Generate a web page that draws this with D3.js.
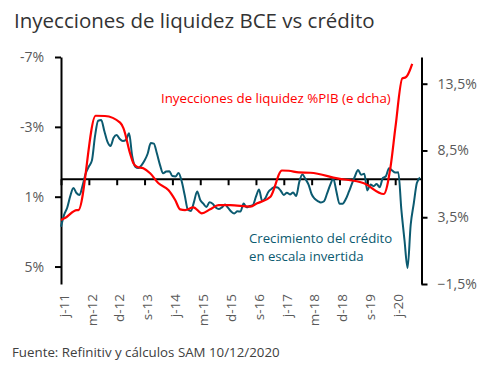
<!DOCTYPE html>
<html><head><meta charset="utf-8">
<script src="https://cdn.jsdelivr.net/npm/d3@7"></script>
<style>body{margin:0;background:#fff}svg{display:block}</style>
</head><body>
<script>
// Month index 0 = June 2011
const tickLabels = ["j-11","m-12","d-12","s-13","j-14","m-15","d-15","s-16","j-17","m-18","d-18","s-19","j-20"];
const tickMonths = [0,9,18,27,36,45,54,63,72,81,90,99,108];

// Credit growth (%), monthly, plotted on inverted left axis
const creditGrowth = [
 2.72,2.04,1.63,0.96,0.50,0.79,0.90,0.34,-0.34,-0.73,
 -1.08,-2.48,-3.35,-3.39,-2.76,-2.15,-1.90,-2.38,-2.53,-2.30,
 -2.19,-2.25,-2.63,-1.33,-0.72,-0.64,-0.80,-1.07,-1.46,-2.07,
 -2.04,-1.47,-0.81,-0.34,-0.44,-0.46,-0.18,-0.16,-0.36,0.12,
 0.93,1.75,1.82,1.28,0.70,1.19,1.40,1.59,1.32,1.40,
 1.62,1.71,1.61,1.45,1.64,1.85,1.96,1.84,1.85,1.39,
 1.61,1.53,1.48,1.00,0.59,1.25,1.09,0.73,0.56,0.44,
 0.47,0.66,0.90,0.77,0.87,0.76,0.96,0.16,-0.27,-0.01,
 0.31,0.86,1.12,1.25,1.33,1.26,0.81,0.32,-0.03,0.70,
 1.40,1.40,1.15,0.73,0.27,-0.17,-0.53,-0.25,-0.32,0.64,
 0.30,0.40,0.27,0.46,-0.07,-0.17,-0.63,-0.50,-0.38,-0.40,
 1.76,3.48,5.08,2.62,1.39,0.22,-0.10
];

// ECB liquidity injections (% GDP), right axis
const liquidityMonths = [0,1.3,5.1,5.6,11.2,14.2,19.1,20.2,22.3,23.4,24.5,26.6,28.8,31.5,34.7,36.9,38.5,40.1,42.8,45.5,48.2,50.9,54.7,61.2,63.4,67.7,71.4,73.6,76.8,80.6,89.3,97.9,104.3,106.5,108.1,110.3,111.4,111.9,113.5];
const liquidityValues = [3.3,3.44,4.04,4.04,11.1,11.08,10.58,10.16,8.29,7.54,7.28,7.16,6.79,6.04,5.54,4.79,4.09,4.04,4.24,3.79,4.09,4.41,4.41,4.29,4.54,5.04,7.0,6.98,6.86,6.83,6.41,6.04,5.24,7.28,10.28,13.9,13.98,14.1,14.98];

const leftTicks = [-7,-3,1,5];
const rightTicks = [13.5,8.5,3.5,-1.5];

const W = 496, H = 378;
const FONT = "'Open Sans', sans-serif";
const svg = d3.select("body").append("svg").attr("width", W).attr("height", H)
  .style("font-family", FONT);

const x = d3.scaleLinear().domain([0, 116.5]).range([61, 421.5]);
const yL = d3.scaleLinear().domain([-7, 6]).range([57, 284]);
const yR = d3.scaleLinear().domain([-1.5, 15.5]).range([284, 57]);

// Title
svg.append("text").attr("x", 14).attr("y", 28).text("Inyecciones de liquidez BCE vs crédito")
  .attr("font-size", 20.5).attr("fill", "#333");

// Left axis
const gL = svg.append("g").attr("transform", "translate(61,0)")
  .call(d3.axisLeft(yL).tickValues(leftTicks).tickFormat(d => d + "%").tickSize(6).tickSizeOuter(0).tickPadding(11));
// Right axis
const gR = svg.append("g").attr("transform", "translate(421.5,0)")
  .call(d3.axisRight(yR).tickValues(rightTicks)
    .tickFormat(d => d3.format(".1f")(d).replace(".", ",") + "%").tickSize(6).tickSizeOuter(0).tickPadding(10));
// X axis at zero of left scale
const gX = svg.append("g").attr("transform", `translate(0,${yL(0)})`)
  .call(d3.axisBottom(x).tickValues(tickMonths).tickFormat("").tickSize(6).tickSizeOuter(0));

[gL, gR, gX].forEach(g => {
  g.selectAll("path.domain").attr("stroke", "#000").attr("stroke-width", 2);
  g.selectAll(".tick line").attr("stroke", "#000").attr("stroke-width", 2);
  g.selectAll(".tick text").attr("fill", "#595959").attr("font-size", 14).attr("font-family", FONT);
});
gX.select("path.domain").attr("d", `M${x(0)},0H421.5`);

// X labels (rotated)
svg.append("g").selectAll("text").data(tickMonths).join("text")
  .attr("transform", d => `translate(${x(d) + 3},294) rotate(-90)`)
  .attr("text-anchor", "end").attr("dy", "0.35em")
  .attr("font-size", 13.5).attr("fill", "#595959")
  .text((d, i) => tickLabels[i]);

// Lines
const teal = "#0b5a70";
const red = "#ff0000";
svg.append("path").datum(creditGrowth)
  .attr("d", d3.line().x((d, i) => x(i)).y(d => yL(d)).curve(d3.curveMonotoneX))
  .attr("fill", "none").attr("stroke", teal).attr("stroke-width", 2);
svg.append("path").datum(liquidityMonths.map((m, i) => [m, liquidityValues[i]]))
  .attr("d", d3.line().x(d => x(d[0])).y(d => yR(d[1])).curve(d3.curveMonotoneX))
  .attr("fill", "none").attr("stroke", red).attr("stroke-width", 2.2);

// Annotations
svg.append("text").attr("x", 161).attr("y", 103).attr("font-size", 13.3).attr("fill", red)
  .text("Inyecciones de liquidez %PIB (e dcha)");
svg.append("text").attr("x", 249).attr("y", 243).attr("font-size", 13.2).attr("fill", teal)
  .text("Crecimiento del crédito");
svg.append("text").attr("x", 249).attr("y", 261).attr("font-size", 13.2).attr("fill", teal)
  .text("en escala invertida");

// Source
svg.append("text").attr("x", 12).attr("y", 357).attr("font-size", 13.3).attr("fill", "#404040")
  .text("Fuente: Refinitiv y cálculos SAM 10/12/2020");
</script>
</body></html>
